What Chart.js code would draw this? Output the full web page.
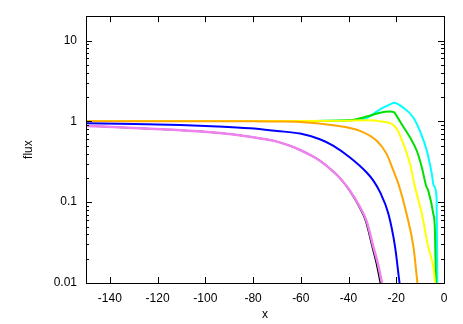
<!DOCTYPE html>
<html>
<head>
<meta charset="utf-8">
<script src="https://cdn.jsdelivr.net/npm/chart.js@4"></script>
<style>
  html, body { margin: 0; padding: 0; background: #fff; }
  #wrap { width: 463px; height: 324px; }
</style>
</head>
<body>
<div id="wrap"><canvas id="fluxChart"></canvas></div>
<script>
// x ticks / y ticks
const xTicks = [-140, -120, -100, -80, -60, -40, -20, 0];
const yTicks = [0.01, 0.1, 1, 10];
const minorSteps = [2, 3, 4, 5, 6, 7, 8, 9];

// curves (x, flux)
const violetX = [-150, -130, -110.6, -95, -81.3, -70, -64.5, -60.3, -56, -52, -46, -42.9, -39.4, -35.2, -32.4, -29.6, -27.8, -26.1, -25.5];
const violetY = [0.877, 0.828, 0.778, 0.721, 0.643, 0.561, 0.498, 0.442, 0.383, 0.326, 0.234, 0.188, 0.139, 0.087, 0.058, 0.028, 0.0178, 0.0104, 0.0086];

const blackX = [-150, -130, -110.6, -95, -81.3, -70, -64.5, -60.3, -56, -52, -46, -42.9, -39.6, -35.5, -32.8, -30.1, -28.4, -26.8, -26.2];
const blackY = [0.877, 0.828, 0.778, 0.721, 0.643, 0.561, 0.498, 0.442, 0.383, 0.326, 0.234, 0.188, 0.139, 0.087, 0.058, 0.028, 0.0178, 0.0104, 0.0086];

const blueX = [-150, -130, -110.6, -95, -81.3, -70, -60.3, -52, -46.5, -39.4, -32.4, -29.6, -26.8, -23.3, -20.5, -18.7, -18.2];
const blueY = [0.948, 0.925, 0.9, 0.865, 0.82, 0.76, 0.706, 0.6, 0.5, 0.357, 0.233, 0.185, 0.133, 0.072, 0.028, 0.0104, 0.008];

const orangeX = [-150, -120, -100, -80, -70, -60.3, -46.4, -35.2, -28.2, -24, -21.2, -19, -15.7, -12.8, -11.2, -10.8];
const orangeY = [1.005, 1.0, 1.0, 1.0, 0.995, 0.985, 0.895, 0.762, 0.574, 0.393, 0.245, 0.165, 0.072, 0.028, 0.0104, 0.008];

const yellowX = [-150, -100, -60, -40, -32.4, -25.4, -22.6, -19.8, -17, -14.2, -12.5, -9.3, -6.6, -4.5, -3.8, -3.6];
const yellowY = [1.01, 1.01, 1.01, 1.02, 1.03, 0.99, 0.95, 0.81, 0.522, 0.296, 0.17, 0.072, 0.028, 0.0159, 0.0104, 0.008];

const greenX = [-150, -100, -60, -40, -35.2, -30, -26.8, -22.6, -21, -19.8, -17.7, -14.2, -11.4, -9.3, -7.5, -6.6, -4.5, -3.8, -3.4, -3.3];
const greenY = [1.01, 1.01, 1.01, 1.03, 1.09, 1.2, 1.28, 1.32, 1.3, 1.16, 0.92, 0.63, 0.433, 0.27, 0.16, 0.139, 0.072, 0.045, 0.0104, 0.008];

const cyanX = [-150, -100, -60, -40, -32.4, -26.8, -22.6, -21, -17, -12.8, -10.1, -7.2, -5.1, -4.3, -3.1, -2.8, -2.75];
const cyanY = [1.01, 1.01, 1.01, 1.03, 1.1, 1.41, 1.62, 1.7, 1.47, 1.11, 0.76, 0.433, 0.223, 0.16, 0.115, 0.0104, 0.008];

const toPoints = (xs, ys) => xs.map((x, i) => ({ x, y: ys[i] }));

const line = (xs, ys, color, width) => ({
  data: toPoints(xs, ys),
  borderColor: color,
  borderWidth: width,
  pointRadius: 0,
  fill: false,
  clip: 0,
  cubicInterpolationMode: 'monotone'
});

// gnuplot-like border with inward ticks
const framePlugin = {
  id: 'frame',
  afterDatasetsDraw(chart) {
    const { ctx, chartArea: a, scales: { x, y } } = chart;
    ctx.save();
    ctx.strokeStyle = '#000';
    ctx.lineWidth = 1;
    ctx.beginPath();
    xTicks.forEach((v) => {
      const px = Math.round(x.getPixelForValue(v)) + 0.5;
      ctx.moveTo(px, a.bottom); ctx.lineTo(px, a.bottom - 6);
      ctx.moveTo(px, a.top); ctx.lineTo(px, a.top + 6);
    });
    yTicks.forEach((v) => {
      const py = Math.round(y.getPixelForValue(v)) + 0.5;
      ctx.moveTo(a.left, py); ctx.lineTo(a.left + 6, py);
      ctx.moveTo(a.right, py); ctx.lineTo(a.right - 6, py);
      minorSteps.forEach((m) => {
        const val = v * m;
        if (val > y.max) return;
        const pm = Math.round(y.getPixelForValue(val)) + 0.5;
        ctx.moveTo(a.left, pm); ctx.lineTo(a.left + 3, pm);
        ctx.moveTo(a.right, pm); ctx.lineTo(a.right - 3, pm);
      });
    });
    ctx.stroke();
    ctx.strokeRect(Math.round(a.left) + 0.5, Math.round(a.top) + 0.5,
      Math.round(a.right - a.left), Math.round(a.bottom - a.top));
    ctx.restore();
  }
};

const font = { family: '"Liberation Sans", Arial, sans-serif', size: 12 };

new Chart(document.getElementById('fluxChart'), {
  type: 'line',
  data: {
    datasets: [
      line(violetX, violetY, '#ee82ee', 2.5),
      line(blackX, blackY, '#000000', 1.5),
      line(blueX, blueY, '#0000ff', 2),
      line(orangeX, orangeY, '#ffa500', 2),
      line(yellowX, yellowY, '#ffff00', 2),
      line(greenX, greenY, '#00e000', 2),
      line(cyanX, cyanY, '#00ffff', 2)
    ]
  },
  options: {
    responsive: true,
    maintainAspectRatio: false,
    animation: false,
    layout: { padding: { top: 14, right: 19, left: 0, bottom: 0 } },
    plugins: { legend: { display: false }, tooltip: { enabled: false } },
    scales: {
      x: {
        type: 'linear',
        min: -150,
        max: 0,
        grid: { display: false, drawTicks: false },
        border: { display: false },
        afterBuildTicks: (s) => { s.ticks = xTicks.map((v) => ({ value: v })); },
        afterFit: (s) => { s.height = 41; },
        ticks: { color: '#000', font, padding: 8, maxRotation: 0 },
        title: { display: true, text: 'x', color: '#000', font, padding: { top: 0, bottom: 2 } }
      },
      y: {
        type: 'logarithmic',
        min: 0.01,
        max: 20,
        grid: { display: false, drawTicks: false },
        border: { display: false },
        afterBuildTicks: (s) => { s.ticks = yTicks.map((v) => ({ value: v })); },
        afterFit: (s) => { s.width = 86; },
        ticks: { color: '#000', font, padding: 9, callback: (v) => String(v) },
        title: { display: true, text: 'flux', color: '#000', font, padding: { top: 21, bottom: 0 } }
      }
    }
  },
  plugins: [framePlugin]
});
</script>
</body>
</html>
